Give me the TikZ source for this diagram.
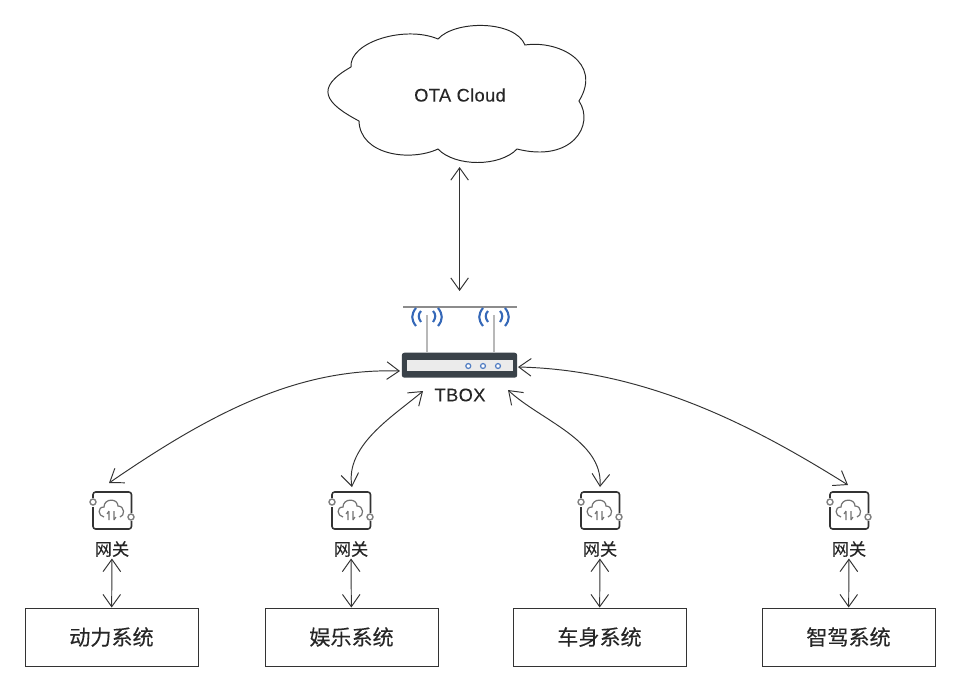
\documentclass[tikz,border=0pt]{standalone}
\usepackage{fontspec}
\setmainfont{Noto Sans CJK SC}[FakeBold=0.25]
\newfontfamily\latinfont{Liberation Sans}[LetterSpace=2,FakeBold=0.2]
\usetikzlibrary{arrows.meta}
\definecolor{inkgray}{HTML}{333333}
\definecolor{routerdark}{HTML}{3A4249}
\definecolor{wifiblue}{HTML}{3568B8}

\begin{document}
\begin{tikzpicture}[x=0.02cm,y=-0.02cm,line width=0.55pt,inkgray,>={Straight Barb[length=7pt,width=10pt,line width=0.55pt]},
        sys/.style={draw,minimum width=3.46cm,minimum height=1.16cm,font=\fontsize{12}{14}\selectfont,text=black!85},
        gwlabel/.style={font=\fontsize{9.8}{12}\selectfont,inner sep=0pt,minimum height=0.36cm,text=black!85},
        latinlabel/.style={font=\latinfont\fontsize{10.4}{12}\selectfont,text=black!85},
        tboxbody/.style={fill=routerdark,rounded corners=1.5pt,minimum width=2.31cm,minimum height=0.5cm,inner sep=0pt},
        gate/.pic={
            \draw[line width=0.9pt,rounded corners=1.5pt] (-19,-12) -- (-19,-18) -- (19.5,-18) -- (19.5,3);
            \draw[line width=0.9pt,rounded corners=1.5pt] (-19,-3) -- (-19,19) -- (19.5,19) -- (19.5,11);
            \draw[line width=0.8pt,fill=white,draw=black!50] (-19,-8) circle (3);
            \draw[line width=0.8pt,fill=white,draw=black!50] (19,7) circle (3);
            \draw[line width=0.7pt,black!55] (-8,7) .. controls (-14,6) and (-15,-3) .. (-8,-3) .. controls (-8,-12) and (6,-12) .. (6,-4) .. controls (13,-4) and (13,6) .. (8,7);
            \draw[line width=0.6pt,black!55] (-3,10) -- (-3,1) (-5,4) -- (-3,1);
            \draw[line width=0.6pt,black!55] (2,1) -- (2,10) (4,7) -- (2,10);
        },
        wifi/.pic={
            \draw[line width=1.2pt,wifiblue] (-6,-6) .. controls (-9,-3) and (-9,1) .. (-6,5);
            \draw[line width=1.2pt,wifiblue] (6,-6) .. controls (9,-3) and (9,1) .. (6,5);
            \draw[line width=1.2pt,wifiblue] (-11,-9) .. controls (-16,-3) and (-16,3) .. (-11,9);
            \draw[line width=1.2pt,wifiblue] (11,-9) .. controls (16,-3) and (16,3) .. (11,9);
            \draw[line width=1.3pt,black!28] (0,-2) -- (0,35);
        },
        led/.style={circle,draw=wifiblue!85,fill=white,line width=0.7pt,inner sep=0pt,minimum size=2.8pt}]
    \useasboundingbox (0,0) rectangle (960,691);

    % cloud
    \draw[black!85] (351,67) .. controls (349,42) and (405,25) .. (438,39)
        .. controls (455,20) and (515,20) .. (525,45)
        .. controls (558,40) and (603,62) .. (579,101)
        .. controls (595,125) and (572,163) .. (517,149)
        .. controls (500,167) and (455,167) .. (438,149)
        .. controls (410,162) and (360,155) .. (359,121)
        .. controls (325,103) and (314,88) .. (351,67) -- cycle;
    \node[latinlabel] (cloud) at (460,95) {OTA Cloud};
    \coordinate (cloudb) at (459.6,167);

    % tbox
    \draw[line width=0.8pt,black!45] (403,307) -- (517,307);
    \pic at (427,317) {wifi};
    \pic at (494,317) {wifi};
    \node[tboxbody] (tbox) at (459.5,365.2) {};
    \fill[black!8] (407,359.5) rectangle (512.5,371);
    \node[led] (l1) at (468.3,366) {};
    \node[led] (l2) at (483,366) {};
    \node[led] (l3) at (498,366) {};
    \node[latinlabel] (tboxname) at (460,395) {TBOX};
    \coordinate (tboxtop) at (459.6,291);
    \coordinate (ta) at (400,371);
    \coordinate (tb) at (423,391);
    \coordinate (tc) at (508,390);
    \coordinate (td) at (518,367);

    % gateways
    \pic at (112,510) {gate};
    \pic at (351,510) {gate};
    \pic at (600,510) {gate};
    \pic at (849,510) {gate};
    \coordinate (g1top) at (109,483);
    \coordinate (g2top) at (352,487);
    \coordinate (g3top) at (600,487);
    \coordinate (g4top) at (848,485);
    \node[gwlabel] (g1) at (112,549) {网关};
    \node[gwlabel] (g2) at (351,549) {网关};
    \node[gwlabel] (g3) at (600,549) {网关};
    \node[gwlabel] (g4) at (849,549) {网关};

    % systems
    \node[sys] (s1) at (111.5,637) {动力系统};
    \node[sys] (s2) at (351.5,637) {娱乐系统};
    \node[sys] (s3) at (599.5,637) {车身系统};
    \node[sys] (s4) at (848.5,637) {智驾系统};

    \draw[<->] (cloudb) -- (tboxtop);
    \draw[<->] (ta) .. controls (300,368) and (215,410) .. (g1top);
    \draw[<->] (tb) .. controls (395,415) and (345,445) .. (g2top);
    \draw[<->] (tc) .. controls (540,420) and (603,440) .. (g3top);
    \draw[<->] (td) .. controls (650,370) and (760,430) .. (g4top);
    \draw[<->] (g1) -- (s1);
    \draw[<->] (g2) -- (s2);
    \draw[<->] (g3) -- (s3);
    \draw[<->] (g4) -- (s4);
\end{tikzpicture}
\end{document}
